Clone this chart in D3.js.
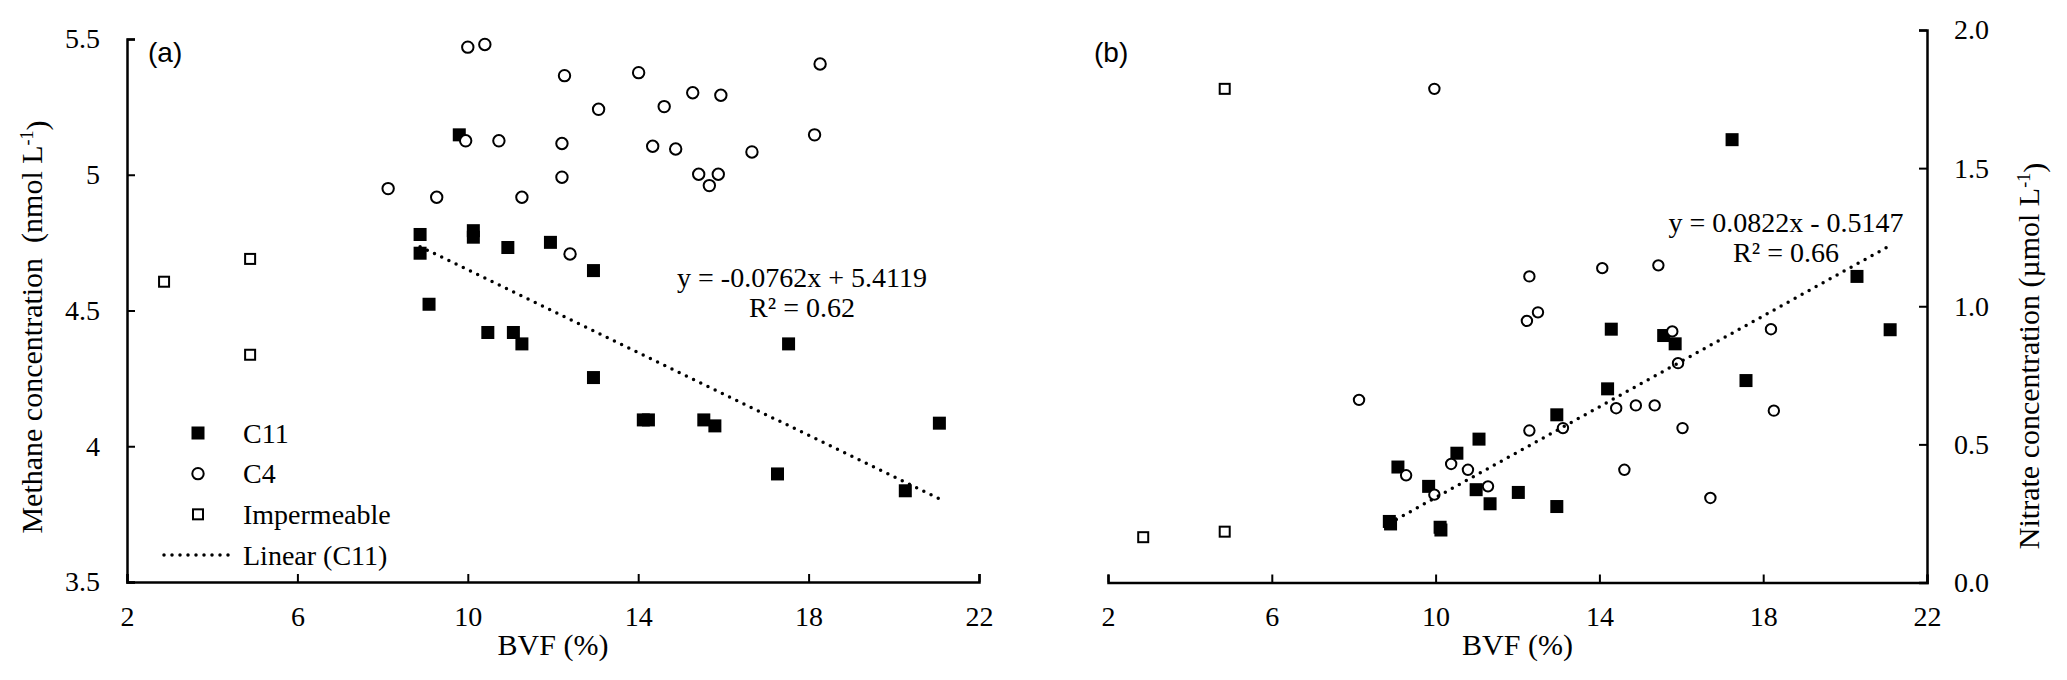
<!DOCTYPE html>
<meta charset="utf-8">
<style>

body {
  margin: 0;
  background: #fff;
}

.axis .domain {
  stroke: #000;
  stroke-width: 2.5px;
}

.axis line {
  stroke: #000;
  stroke-width: 2px;
}

</style>
<body>
  <div class="chart"></div>
</body>
<script src="https://cdn.jsdelivr.net/npm/d3@7"></script>
<script>

// BVF (%) vs methane (nmol L-1), panel a
var c11Methane = [
  [8.88, 4.78], [8.88, 4.711], [9.09, 4.523], [9.8, 5.147], [10.13, 4.794],
  [10.13, 4.77], [10.47, 4.419], [10.94, 4.732], [11.07, 4.419], [11.27, 4.377],
  [11.94, 4.751], [12.95, 4.647], [12.95, 4.253], [14.12, 4.097], [14.24, 4.097],
  [15.54, 4.097], [15.8, 4.075], [17.27, 3.898], [17.53, 4.377], [20.27, 3.836],
  [21.07, 4.085]
];
var c4Methane = [
  [8.13, 4.949], [9.27, 4.917], [9.95, 5.125], [10.0, 5.47], [10.4, 5.48],
  [10.73, 5.125], [11.27, 4.917], [12.21, 5.115], [12.21, 4.991], [12.27, 5.365],
  [12.4, 4.708], [13.07, 5.241], [14.01, 5.376], [14.34, 5.105], [14.61, 5.251],
  [14.88, 5.095], [15.28, 5.302], [15.42, 5.002], [15.67, 4.96], [15.88, 5.002],
  [15.94, 5.293], [16.67, 5.084], [18.14, 5.147], [18.27, 5.408]
];
var impMethane = [[2.87, 4.606], [4.89, 4.69], [4.89, 4.337]];

// BVF (%) vs nitrate (umol L-1), panel b
var c11Nitrate = [
  [8.87, 0.221], [8.9, 0.212], [9.08, 0.418], [9.83, 0.348], [10.11, 0.2],
  [10.13, 0.19], [10.52, 0.468], [10.99, 0.336], [11.06, 0.519], [11.33, 0.285],
  [12.02, 0.326], [12.96, 0.275], [12.96, 0.607], [14.2, 0.701], [14.29, 0.917],
  [15.57, 0.894], [15.85, 0.864], [17.24, 1.603], [17.58, 0.731], [20.29, 1.108],
  [21.1, 0.915]
];
var c4Nitrate = [
  [8.13, 0.661], [9.28, 0.388], [9.97, 1.787], [9.97, 0.318], [10.38, 0.429],
  [10.79, 0.408], [11.28, 0.348], [12.23, 0.947], [12.29, 1.108], [12.29, 0.55],
  [12.5, 0.978], [13.11, 0.559], [14.07, 1.138], [14.41, 0.631], [14.61, 0.408],
  [14.89, 0.641], [15.35, 0.641], [15.44, 1.148], [15.78, 0.909], [15.92, 0.794],
  [16.03, 0.559], [16.71, 0.306], [18.19, 0.917], [18.26, 0.622]
];
var impNitrate = [[2.86, 0.164], [4.85, 0.184], [4.85, 1.787]];

// linear fits on C11: [slope, intercept, R2]
var fitMethane = [-0.0762, 5.4119, 0.62];
var fitNitrate = [0.0822, -0.5147, 0.66];

var xTicks = [2, 6, 10, 14, 18, 22];
var methaneTicks = [3.5, 4, 4.5, 5, 5.5];
var nitrateTicks = [0, 0.5, 1, 1.5, 2];
var legendLabels = ["C11", "C4", "Impermeable", "Linear (C11)"];

var serif = "'Liberation Serif', 'Times New Roman', serif",
    sans = "'Liberation Sans', Arial, sans-serif";

var w = 2067,
    h = 680;

var svg = d3.select(".chart").append("svg")
    .attr("width", w)
    .attr("height", h);

// panel a scales
var xa = d3.scaleLinear().domain([2, 22]).range([127, 979]);
var ya = d3.scaleLinear().domain([3.5, 5.5]).range([582, 39]);
// panel b scales
var xb = d3.scaleLinear().domain([2, 22]).range([1108, 1927]);
var yb = d3.scaleLinear().domain([0, 2]).range([582.5, 30]);

function serifText(sel, size) {
  sel.attr("font-family", serif)
     .style("font-family", serif)
     .style("font-size", size + "px")
     .style("fill", "#000");
}

function drawPanel(x, y, yAxisFn, yFormat, yTicks, xPos, c11, c4, imp, fit, circleR) {
  var g = svg.append("g");

  var gx = g.append("g")
      .attr("class", "axis")
      .attr("transform", "translate(0," + y.range()[0] + ")")
      .call(d3.axisBottom(x).tickValues(xTicks).tickSize(-8).tickSizeOuter(-8).tickPadding(24));
  gx.attr("font-family", serif);
  gx.selectAll("text").attr("dy", "0.71em").call(serifText, 28);

  var gy = g.append("g")
      .attr("class", "axis")
      .attr("transform", "translate(" + xPos + ",0)")
      .call(yAxisFn(y).tickValues(yTicks).tickFormat(yFormat).tickSize(-8).tickSizeOuter(-8).tickPadding(27));
  gy.attr("font-family", serif);
  gy.selectAll("text").call(serifText, 28);

  g.selectAll(".imp")
      .data(imp)
    .enter().append("rect")
      .attr("x", function(d) { return x(d[0]) - 5; })
      .attr("y", function(d) { return y(d[1]) - 5; })
      .attr("width", 10)
      .attr("height", 10)
      .style("fill", "#fff")
      .style("stroke", "#000")
      .style("stroke-width", 2);

  g.selectAll(".c11")
      .data(c11)
    .enter().append("rect")
      .attr("x", function(d) { return x(d[0]) - 6.5; })
      .attr("y", function(d) { return y(d[1]) - 6.5; })
      .attr("width", 13)
      .attr("height", 13)
      .style("fill", "#000");

  g.selectAll(".c4")
      .data(c4)
    .enter().append("circle")
      .attr("cx", function(d) { return x(d[0]); })
      .attr("cy", function(d) { return y(d[1]); })
      .attr("r", circleR)
      .style("fill", "#fff")
      .style("stroke", "#000")
      .style("stroke-width", 2);

  var ext = d3.extent(c11, function(d) { return d[0]; });
  g.append("line")
      .attr("x1", x(ext[0]))
      .attr("y1", y(fit[0] * ext[0] + fit[1]))
      .attr("x2", x(ext[1]))
      .attr("y2", y(fit[0] * ext[1] + fit[1]))
      .style("stroke", "#000")
      .style("stroke-width", 3.5)
      .style("stroke-linecap", "round")
      .style("stroke-dasharray", "0,8");

  return g;
}

var ga = drawPanel(xa, ya, d3.axisLeft, function(d) { return String(d); },
    methaneTicks, 127, c11Methane, c4Methane, impMethane, fitMethane, 5.7);
var gb = drawPanel(xb, yb, d3.axisRight, d3.format(".1f"),
    nitrateTicks, 1927, c11Nitrate, c4Nitrate, impNitrate, fitNitrate, 5.2);

// x axis titles
[[ga, xa], [gb, xb]].forEach(function(p) {
  p[0].append("text")
      .attr("x", d3.mean(p[1].range()))
      .attr("y", 655)
      .attr("text-anchor", "middle")
      .call(serifText, 30)
      .text("BVF (%)");
});

// y axis titles
function yTitle(g, cx, cy, main, unit) {
  var t = g.append("text")
      .attr("transform", "translate(" + cx + "," + cy + ") rotate(-90)")
      .attr("text-anchor", "middle")
      .attr("dy", "0.35em")
      .call(serifText, 30);
  t.append("tspan").text(main + unit + " L");
  t.append("tspan").attr("dy", "-0.45em").style("font-size", "18px").text("-1");
  t.append("tspan").attr("dy", "0.45em").text(")");
}
yTitle(ga, 31, 327, "Methane concentration\u00a0\u00a0", "(nmol");
yTitle(gb, 2028, 356, "Nitrate concentration ", "(\u00b5mol");

// panel tags
[[ga, 148, "(a)"], [gb, 1094, "(b)"]].forEach(function(p) {
  p[0].append("text")
      .attr("x", p[1]).attr("y", 62)
      .style("font-family", sans)
      .style("font-size", "28px")
      .text(p[2]);
});

// fit equations
function fitText(g, cx, y0, fit) {
  var eq = "y = " + fit[0] + "x " + (fit[1] < 0 ? "- " : "+ ") + Math.abs(fit[1]);
  g.append("text")
      .attr("x", cx).attr("y", y0)
      .attr("text-anchor", "middle")
      .call(serifText, 28)
      .text(eq);
  g.append("text")
      .attr("x", cx).attr("y", y0 + 30)
      .attr("text-anchor", "middle")
      .call(serifText, 28)
      .text("R\u00b2 = " + fit[2].toFixed(2));
}
fitText(ga, 802, 287, fitMethane);
fitText(gb, 1786, 232, fitNitrate);

// legend in panel a
var legend = ga.append("g");
var ly = d3.scalePoint().domain(legendLabels).range([433, 555]);

legend.append("rect")
    .attr("x", 198 - 6.5).attr("y", ly("C11") - 6.5)
    .attr("width", 13).attr("height", 13)
    .style("fill", "#000");
legend.append("circle")
    .attr("cx", 198).attr("cy", ly("C4"))
    .attr("r", 5.7)
    .style("fill", "#fff").style("stroke", "#000").style("stroke-width", 2);
legend.append("rect")
    .attr("x", 198 - 5).attr("y", ly("Impermeable") - 5)
    .attr("width", 10).attr("height", 10)
    .style("fill", "#fff").style("stroke", "#000").style("stroke-width", 2);
legend.append("line")
    .attr("x1", 164).attr("x2", 234)
    .attr("y1", ly("Linear (C11)")).attr("y2", ly("Linear (C11)"))
    .style("stroke", "#000")
    .style("stroke-width", 3.5)
    .style("stroke-linecap", "round")
    .style("stroke-dasharray", "0,8");

legend.selectAll(".lbl")
    .data(legendLabels)
  .enter().append("text")
    .attr("x", 243)
    .attr("y", function(d) { return ly(d); })
    .attr("dy", "0.35em")
    .call(serifText, 28)
    .text(function(d) { return d; });

</script>
